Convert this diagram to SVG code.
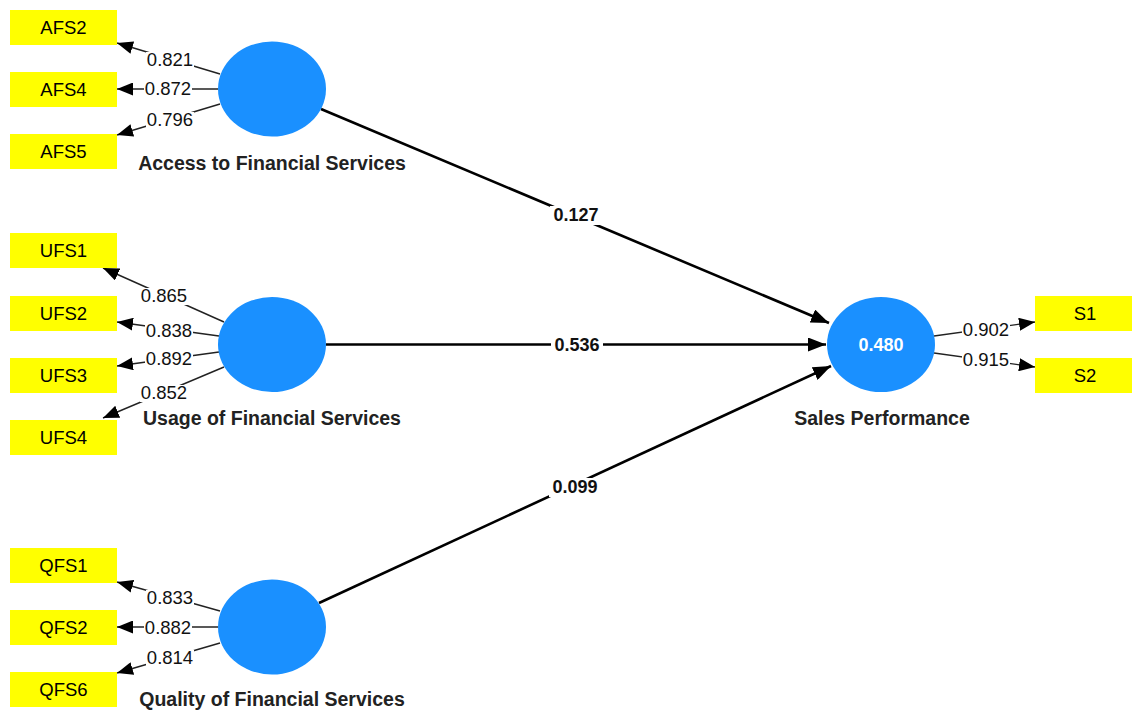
<svg xmlns="http://www.w3.org/2000/svg" width="1132" height="711" viewBox="0 0 1132 711">
<style>
text{font-family:"Liberation Sans",Arial,sans-serif;}
.box{fill:#ffff00;}
.bt{font-size:18.5px;fill:#000;text-anchor:middle;}
.lv{fill:#1a90ff;}
.lt{font-size:19.5px;font-weight:bold;fill:#222;text-anchor:middle;}
.r2{font-size:18px;font-weight:bold;fill:#fff;text-anchor:middle;}
.ol{stroke:#222;stroke-width:1.4;fill:none;marker-end:url(#sa);}
.sl{stroke:#000;stroke-width:2.6;fill:none;marker-end:url(#la);}
.bg{fill:#fff;}
.ov{font-size:18.5px;fill:#111;text-anchor:middle;}
.pv{font-size:18px;font-weight:bold;fill:#111;text-anchor:middle;}
</style>
<defs>
<marker id="sa" markerUnits="userSpaceOnUse" markerWidth="17" markerHeight="13" refX="16" refY="6.5" orient="auto"><path d="M0,0 L16,6.5 L0,13 z" fill="#000"/></marker>
<marker id="la" markerUnits="userSpaceOnUse" markerWidth="18" markerHeight="14" refX="18" refY="7" orient="auto"><path d="M0,0 L18,7 L0,14 z" fill="#000"/></marker>
</defs>
<rect width="1132" height="711" fill="#fff"/>
<g id="connectors">
<line class="ol" x1="220" y1="74" x2="117" y2="43"/>
<line class="ol" x1="218" y1="89" x2="117" y2="89"/>
<line class="ol" x1="220" y1="104" x2="117" y2="135"/>
<line class="ol" x1="224" y1="322" x2="103" y2="268"/>
<line class="ol" x1="219" y1="336" x2="117" y2="322"/>
<line class="ol" x1="219" y1="352" x2="117" y2="366"/>
<line class="ol" x1="224" y1="367" x2="103" y2="418"/>
<line class="ol" x1="220" y1="611" x2="117" y2="582"/>
<line class="ol" x1="218" y1="627" x2="117" y2="627"/>
<line class="ol" x1="220" y1="643" x2="117" y2="673"/>
<line class="ol" x1="934" y1="336" x2="1035" y2="322"/>
<line class="ol" x1="934" y1="353" x2="1035" y2="367"/>
<line class="sl" x1="321" y1="109" x2="829" y2="323"/>
<line class="sl" x1="326" y1="344.5" x2="826" y2="344.5"/>
<line class="sl" x1="319" y1="603" x2="831" y2="366"/>
<rect class="bg" x="146" y="52" width="48" height="17"/>
<rect class="bg" x="144" y="81" width="48" height="17"/>
<rect class="bg" x="146" y="112" width="48" height="17"/>
<rect class="bg" x="140" y="288" width="48" height="17"/>
<rect class="bg" x="145" y="323" width="48" height="17"/>
<rect class="bg" x="145" y="351" width="48" height="17"/>
<rect class="bg" x="140" y="385" width="48" height="17"/>
<rect class="bg" x="146" y="590" width="48" height="17"/>
<rect class="bg" x="144" y="620" width="48" height="17"/>
<rect class="bg" x="146" y="650" width="48" height="17"/>
<rect class="bg" x="962" y="322" width="48" height="17"/>
<rect class="bg" x="962" y="352" width="48" height="17"/>
<rect class="bg" x="550" y="206" width="52" height="19"/>
<rect class="bg" x="551" y="336" width="52" height="19"/>
<rect class="bg" x="549" y="478" width="52" height="19"/>
<text class="ov" x="170" y="66">0.821</text>
<text class="ov" x="168" y="95">0.872</text>
<text class="ov" x="170" y="126">0.796</text>
<text class="ov" x="164" y="302">0.865</text>
<text class="ov" x="169" y="337">0.838</text>
<text class="ov" x="169" y="365">0.892</text>
<text class="ov" x="164" y="399">0.852</text>
<text class="ov" x="170" y="604">0.833</text>
<text class="ov" x="168" y="634">0.882</text>
<text class="ov" x="170" y="664">0.814</text>
<text class="ov" x="986" y="336">0.902</text>
<text class="ov" x="986" y="366">0.915</text>
<text class="pv" x="576" y="221">0.127</text>
<text class="pv" x="577" y="351">0.536</text>
<text class="pv" x="575" y="493">0.099</text>
</g>
<g id="AFS">
<ellipse class="lv" cx="272" cy="89" rx="54" ry="47.5"/>
<text class="lt" x="272" y="170">Access to Financial Services</text>
</g>
<g id="UFS">
<ellipse class="lv" cx="272" cy="344.5" rx="54" ry="47.5"/>
<text class="lt" x="272" y="425">Usage of Financial Services</text>
</g>
<g id="QFS">
<ellipse class="lv" cx="272" cy="627" rx="54" ry="47.5"/>
<text class="lt" x="272" y="706">Quality of Financial Services</text>
</g>
<g id="SP">
<ellipse class="lv" cx="881" cy="344.5" rx="54" ry="47.5"/>
<text class="r2" x="881" y="351">0.480</text>
<text class="lt" x="882" y="425">Sales Performance</text>
</g>
<g id="AFS2"><rect class="box" x="10" y="10" width="107" height="35"/><text class="bt" x="63.5" y="34">AFS2</text></g>
<g id="AFS4"><rect class="box" x="10" y="72" width="107" height="35"/><text class="bt" x="63.5" y="96">AFS4</text></g>
<g id="AFS5"><rect class="box" x="10" y="134" width="107" height="35"/><text class="bt" x="63.5" y="158">AFS5</text></g>
<g id="UFS1"><rect class="box" x="10" y="233" width="107" height="35"/><text class="bt" x="63.5" y="257">UFS1</text></g>
<g id="UFS2"><rect class="box" x="10" y="296" width="107" height="35"/><text class="bt" x="63.5" y="320">UFS2</text></g>
<g id="UFS3"><rect class="box" x="10" y="358" width="107" height="35"/><text class="bt" x="63.5" y="382">UFS3</text></g>
<g id="UFS4"><rect class="box" x="10" y="420" width="107" height="35"/><text class="bt" x="63.5" y="444">UFS4</text></g>
<g id="QFS1"><rect class="box" x="10" y="548" width="107" height="35"/><text class="bt" x="63.5" y="572">QFS1</text></g>
<g id="QFS2"><rect class="box" x="10" y="610" width="107" height="35"/><text class="bt" x="63.5" y="634">QFS2</text></g>
<g id="QFS6"><rect class="box" x="10" y="672" width="107" height="35"/><text class="bt" x="63.5" y="696">QFS6</text></g>
<g id="S1"><rect class="box" x="1035" y="296" width="97" height="35"/><text class="bt" x="1085" y="320">S1</text></g>
<g id="S2"><rect class="box" x="1035" y="358" width="97" height="35"/><text class="bt" x="1085" y="382">S2</text></g>
</svg>
